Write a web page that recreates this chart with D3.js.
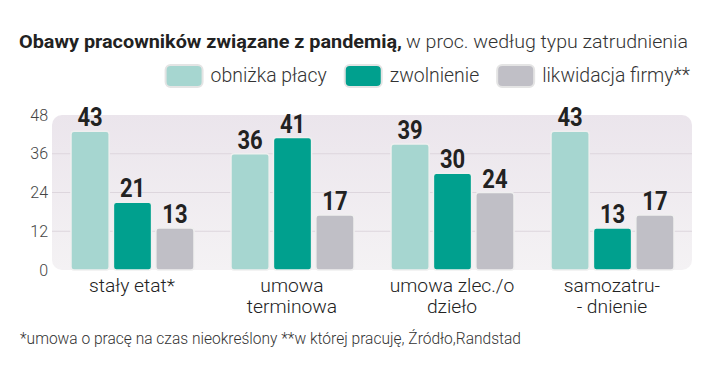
<!DOCTYPE html>
<html>
<head>
<meta charset="utf-8">
<script src="https://cdn.jsdelivr.net/npm/d3@7"></script>
<style>
  body { margin: 0; background: #fff; }
  svg { display: block; }
</style>
</head>
<body>
<script>
// Dane
const categories = ["stały etat*", "umowa terminowa", "umowa zlec./o dzieło", "samozatru- - dnienie"];
const categoryLines = [["stały etat*"], ["umowa", "terminowa"], ["umowa zlec./o", "dzieło"], ["samozatru-", "- dnienie"]];
const seriesNames = ["obniżka płacy", "zwolnienie", "likwidacja firmy**"];
const obnizka = [43, 36, 39, 43];
const zwolnienie = [21, 41, 30, 13];
const likwidacja = [13, 17, 24, 17];
const yTicks = [0, 12, 24, 36, 48];
const colors = ["#a6d6d0", "#00a08e", "#c0bfc6"];

const w = 720;
const h = 370;
const pLeft = 52, pRight = 692, pTop = 115, pBottom = 270;
const font = "Roboto, 'DejaVu Sans', sans-serif";

const series = [obnizka, zwolnienie, likwidacja];

// ściska tekst w poziomie (krój wąski)
function squeeze(sel, k) {
    sel.each(function() {
        const len = this.getComputedTextLength();
        d3.select(this)
            .attr("textLength", len * k)
            .attr("lengthAdjust", "spacingAndGlyphs");
    });
}

const svg = d3.select("body")
    .append("svg")
    .attr("width", w)
    .attr("height", h);

// Gradient tła
const defs = svg.append("defs");
const grad = defs.append("linearGradient")
    .attr("id", "bg")
    .attr("x1", 0).attr("y1", 0).attr("x2", 0).attr("y2", 1);
grad.append("stop").attr("offset", "0%").attr("stop-color", "#ebe5ec");
grad.append("stop").attr("offset", "100%").attr("stop-color", "#f4f2f4");

// Tytuł
svg.append("text")
    .attr("x", 19)
    .attr("y", 48)
    .attr("font-family", font)
    .attr("font-size", "19px")
    .attr("font-weight", "bold")
    .attr("fill", "#222")
    .attr("textLength", 383)
    .attr("lengthAdjust", "spacingAndGlyphs")
    .text("Obawy pracowników związane z pandemią,");

svg.append("text")
    .attr("x", 406)
    .attr("y", 48)
    .attr("font-family", font)
    .attr("font-size", "19px")
    .attr("font-weight", 300)
    .attr("fill", "#333")
    .attr("textLength", 282)
    .attr("lengthAdjust", "spacingAndGlyphs")
    .text("w proc. według typu zatrudnienia");

// Skale
const x0 = d3.scaleBand()
    .domain(categories)
    .range([pLeft, pRight])
    .paddingInner(0)
    .paddingOuter(0);

const x1 = d3.scaleBand()
    .domain(d3.range(series.length))
    .range([19, 142])
    .paddingInner(0.1)
    .paddingOuter(0);

const y = d3.scaleLinear()
    .domain([0, 48])
    .range([pBottom, pTop]);

// Tło wykresu
svg.append("rect")
    .attr("x", pLeft)
    .attr("y", pTop)
    .attr("width", pRight - pLeft)
    .attr("height", pBottom - pTop)
    .attr("rx", 10)
    .attr("fill", "url(#bg)");

// Linie siatki
svg.append("g")
    .selectAll("line")
    .data(yTicks.filter(d => d > 0 && d < 48))
    .enter()
    .append("line")
    .attr("x1", pLeft)
    .attr("x2", pRight)
    .attr("y1", d => y(d))
    .attr("y2", d => y(d))
    .attr("stroke", "#ddd6dd")
    .attr("stroke-width", 1);

// Oś Y
const yAxis = d3.axisLeft(y)
    .tickValues(yTicks)
    .tickSize(0)
    .tickPadding(0);

const yg = svg.append("g")
    .attr("transform", "translate(48,0)")
    .call(yAxis);
yg.select(".domain").remove();
yg.selectAll("text")
    .attr("font-family", font)
    .attr("font-size", "16px")
    .attr("font-weight", 300)
    .attr("fill", "#444");

// Słupki
const groups = svg.append("g")
    .selectAll("g")
    .data(categories)
    .enter()
    .append("g")
    .attr("transform", d => "translate(" + x0(d) + ",0)");

groups.selectAll("rect")
    .data((d, i) => series.map((s, k) => ({ k: k, v: s[i] })))
    .enter()
    .append("rect")
    .attr("x", d => x1(d.k))
    .attr("y", d => y(d.v))
    .attr("width", x1.bandwidth())
    .attr("height", d => y(0) - y(d.v))
    .attr("rx", 3)
    .attr("fill", d => colors[d.k])
    .attr("stroke", "#efefef")
    .attr("stroke-width", 1.5);

const vals = groups.selectAll("text.val")
    .data((d, i) => series.map((s, k) => ({ k: k, v: s[i] })))
    .enter()
    .append("text")
    .attr("class", "val")
    .attr("x", d => x1(d.k) + x1.bandwidth() / 2)
    .attr("y", d => y(d.v) - 5)
    .attr("text-anchor", "middle")
    .attr("font-family", font)
    .attr("font-weight", "bold")
    .attr("font-size", "25px")
    .attr("fill", "#222")
    .text(d => d.v);
squeeze(vals, 0.88);

// Etykiety kategorii
groups.each(function(d, i) {
    categoryLines[i].forEach((line, j) => {
        const t = d3.select(this).append("text")
            .attr("x", x0.bandwidth() / 2)
            .attr("y", 292 + j * 21)
            .attr("text-anchor", "middle")
            .attr("font-family", font)
            .attr("font-size", "18px")
            .attr("font-weight", 300)
            .attr("fill", "#222")
            .text(line);
        squeeze(t, 1.07);
    });
});

// Legenda
const legend = svg.append("g");
let lx = 690;
for (let k = seriesNames.length - 1; k >= 0; k--) {
    const t = legend.append("text")
        .attr("y", 82)
        .attr("font-family", font)
        .attr("font-size", "20px")
        .attr("font-weight", 300)
        .attr("fill", "#333")
        .text(seriesNames[k]);
    squeeze(t, 0.97);
    const tw = +t.attr("textLength");
    t.attr("x", lx - tw);
    legend.append("rect")
        .attr("x", lx - tw - 8 - 37)
        .attr("y", 65)
        .attr("width", 37)
        .attr("height", 22)
        .attr("rx", 5)
        .attr("fill", colors[k])
        .attr("stroke", "#e4e4e4")
        .attr("stroke-width", 2);
    lx = lx - tw - 8 - 37 - 18;
}

// Przypis
svg.append("text")
    .attr("x", 20)
    .attr("y", 344)
    .attr("font-family", font)
    .attr("font-size", "16px")
    .attr("font-weight", 300)
    .attr("fill", "#333")
    .attr("textLength", 501)
    .attr("lengthAdjust", "spacingAndGlyphs")
    .text("*umowa o pracę na czas nieokreślony **w której pracuję, Źródło,Randstad");
</script>
</body>
</html>
